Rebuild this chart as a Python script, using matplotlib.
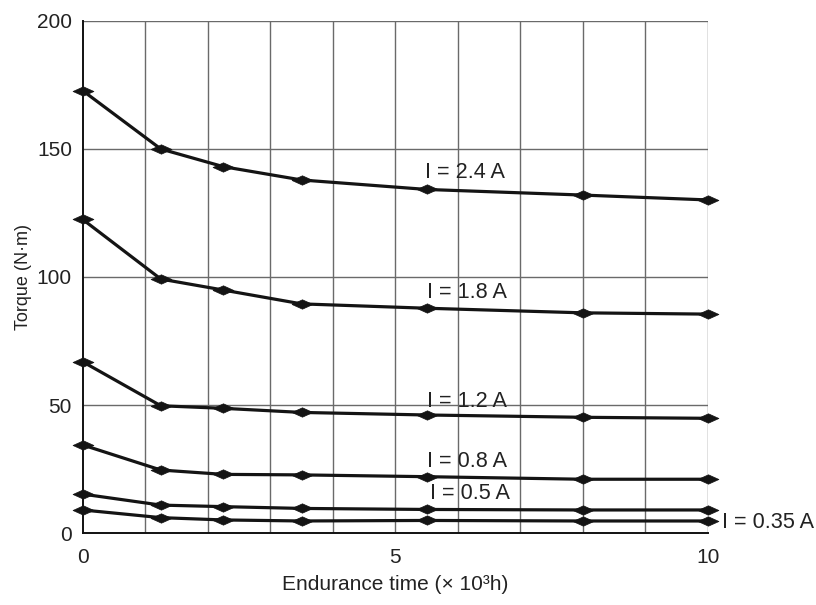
import matplotlib
matplotlib.use("Agg")
import matplotlib.pyplot as plt
from matplotlib.path import Path

plt.rcParams['font.family'] = ['Liberation Sans', 'DejaVu Sans']

# Endurance time (x 10^3 h)
time = [0, 1.25, 2.25, 3.5, 5.5, 8, 10]

# Torque (N·m) for each excitation current
currents = ["2.4", "1.8", "1.2", "0.8", "0.5", "0.35"]
torque_24 = [172.8, 150.0, 143.1, 137.9, 134.2, 132.0, 130.1]
torque_18 = [122.5, 99.2, 94.9, 89.5, 87.8, 86.0, 85.5]
torque_12 = [66.9, 49.7, 48.7, 47.1, 46.1, 45.2, 44.8]
torque_08 = [34.4, 24.6, 22.9, 22.7, 22.0, 21.0, 21.0]
torque_05 = [15.2, 10.9, 10.3, 9.6, 9.2, 9.0, 9.0]
torque_035 = [9.0, 6.0, 5.1, 4.7, 4.9, 4.7, 4.7]
series = [torque_24, torque_18, torque_12, torque_08, torque_05, torque_035]

# label anchor positions (left edge, vertical centre) in data units
label_pos = [(5.48, 140.7), (5.5, 93.9), (5.5, 51.3), (5.5, 27.9), (5.55, 15.5), (10.23, 4.0)]

x_ticks = [0, 5, 10]
y_ticks = [0, 50, 100, 150, 200]

# flattened diamond marker
diamond = Path([(-1, 0), (0, 0.45), (1, 0), (0, -0.45), (-1, 0)],
               [Path.MOVETO, Path.LINETO, Path.LINETO, Path.LINETO, Path.CLOSEPOLY])

fig = plt.figure(figsize=(8.16, 6.05), dpi=100)
ax = fig.add_axes([0.1013, 0.119, 0.7663, 0.8463])

ax.set_xlim(0, 10)
ax.set_ylim(0, 200)

grid_col = "#6a6a6a"
for gx in range(1, 11):
    ax.axvline(gx, color=grid_col, lw=1.0, zorder=1)
for gy in [50, 100, 150, 200]:
    ax.axhline(gy, color=grid_col, lw=1.0, zorder=1)

for vals in series:
    ax.plot(time, vals, color="#141414", lw=2.3, marker=diamond,
            markersize=15, markeredgewidth=0.5, markeredgecolor="#141414",
            markerfacecolor="#141414", zorder=3, clip_on=False)

for cur, (lx, ly) in zip(currents, label_pos):
    ax.text(lx, ly, f"I = {cur} A", fontsize=15.6, color="#222222",
            ha="left", va="center", zorder=4, clip_on=False)

for side in ["top", "right"]:
    ax.spines[side].set_visible(False)
for side in ["left", "bottom"]:
    ax.spines[side].set_color("#111111")
    ax.spines[side].set_linewidth(1.4)

ax.set_xticks(x_ticks)
ax.set_yticks(y_ticks)
ax.tick_params(length=0, labelsize=15, colors="#222222")
ax.tick_params(axis='x', pad=11)
ax.tick_params(axis='y', pad=7.7)

# axis titles placed in figure coordinates
fig.text(395 / 816, 1 - 585 / 605, "Endurance time (× 10³h)", fontsize=15,
         color="#222222", ha="center", va="center")
fig.text(24 / 816, 1 - 277 / 605, "Torque (N·m)", fontsize=13, rotation=90,
         color="#222222", ha="center", va="center")

fig.savefig("out.png", dpi=100)
